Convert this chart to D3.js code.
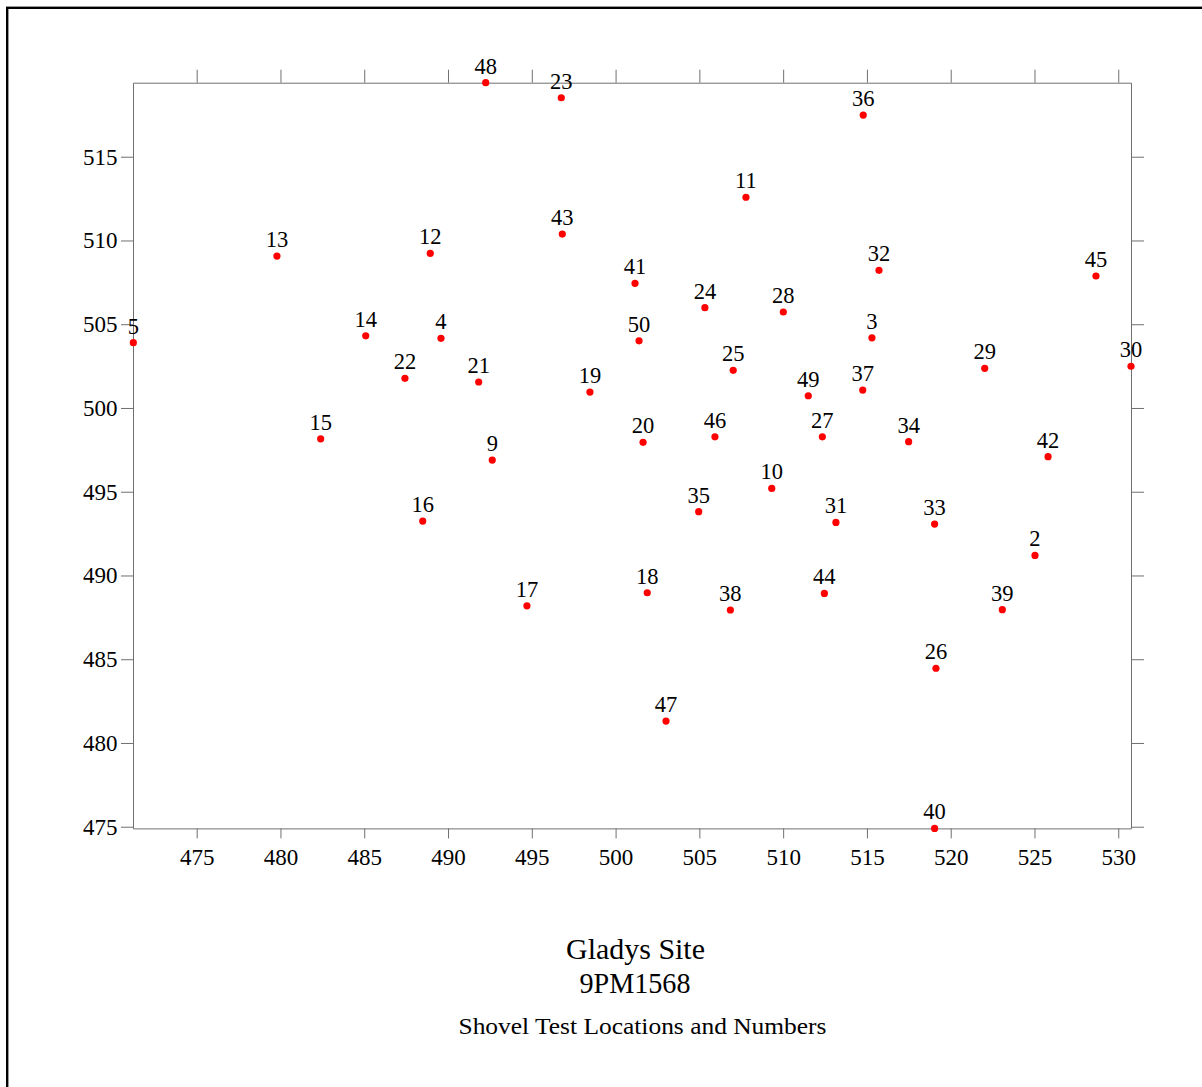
<!DOCTYPE html>
<html>
<head>
<meta charset="utf-8">
<script src="https://cdn.jsdelivr.net/npm/d3@7"></script>
<style>
    body { margin: 0; background: #fff; }
    svg { display: block; }
    .axis path, .axis line { stroke: #707070; stroke-width: 1; }
    .axis text { font-family: "Liberation Serif", "DejaVu Serif", serif; font-size: 23px; fill: #000; }
    .pt-label { font-family: "Liberation Serif", "DejaVu Serif", serif; font-size: 22.5px; fill: #000; text-anchor: middle; }
    .title { font-family: "Liberation Serif", "DejaVu Serif", serif; fill: #000; text-anchor: middle; }
</style>
</head>
<body>
<svg id="chart"></svg>
<script>
// shovel test numbers and their grid coordinates (easting / northing, metres)
const testIds = [48, 23, 11, 43, 12, 41, 13, 36, 32, 45,
                 5, 14, 4, 22, 15, 16, 21, 19, 9, 50,
                 24, 28, 25, 49, 20, 46, 27, 10, 35, 31,
                 3, 29, 30, 37, 34, 42, 33, 2, 44, 39,
                 17, 18, 38, 47, 26, 40];
const easting = [492.25, 496.76, 507.78, 496.82, 488.94, 501.16, 479.79, 514.78, 515.72, 528.67,
                 471.22, 485.09, 489.58, 487.43, 482.40, 488.49, 491.83, 498.47, 492.64, 501.40,
                 505.33, 510.01, 507.02, 511.50, 501.64, 505.93, 512.34, 509.32, 504.96, 513.15,
                 515.30, 522.03, 530.76, 514.75, 517.49, 525.81, 519.04, 525.03, 512.46, 523.08,
                 494.71, 501.89, 506.85, 503.01, 519.12, 519.04];
const northing = [519.42, 518.52, 512.58, 510.38, 509.23, 507.44, 509.07, 517.49, 508.22, 507.88,
                  503.90, 504.31, 504.16, 501.77, 498.16, 493.25, 501.55, 500.95, 496.89, 504.01,
                  505.99, 505.73, 502.25, 500.73, 497.95, 498.28, 498.28, 495.20, 493.81, 493.17,
                  504.19, 502.37, 502.49, 501.07, 497.99, 497.09, 493.07, 491.20, 488.93, 487.96,
                  488.19, 488.97, 487.94, 481.31, 484.46, 474.90];

const xTicks = [475, 480, 485, 490, 495, 500, 505, 510, 515, 520, 525, 530];
const yTicks = [475, 480, 485, 490, 495, 500, 505, 510, 515];
const titleLines = ['Gladys Site', '9PM1568'];
const subtitle = 'Shovel Test Locations and Numbers';

const W = 1202, H = 1087;

const svg = d3.select('#chart')
    .attr('width', W)
    .attr('height', H);

// page frame (runs off the right/bottom edge like the scan)
svg.append('rect')
    .attr('x', 7.2)
    .attr('y', 7.8)
    .attr('width', 1400)
    .attr('height', 1300)
    .attr('fill', 'none')
    .attr('stroke', '#000')
    .attr('stroke-width', 2.4);

const xScale = d3.scaleLinear()
    .domain([471.2, 530.76])
    .range([133, 1131]);

const yScale = d3.scaleLinear()
    .domain([474.9, 519.42])
    .range([828.4, 82.7]);

const [x0, x1] = xScale.range();
const [y0, y1] = yScale.range();

svg.append('g')
    .attr('class', 'axis')
    .attr('transform', `translate(${x0},0)`)
    .call(d3.axisLeft(yScale).tickValues(yTicks).tickSize(12).tickSizeOuter(0).tickPadding(3.5));

svg.append('g')
    .attr('class', 'axis')
    .attr('transform', `translate(0,${y0})`)
    .call(d3.axisBottom(xScale).tickValues(xTicks).tickSize(10).tickSizeOuter(0).tickPadding(10.3));

svg.append('g')
    .attr('class', 'axis')
    .attr('transform', `translate(0,${y1})`)
    .call(d3.axisTop(xScale).tickValues(xTicks).tickSize(13).tickSizeOuter(0).tickFormat(''));

svg.append('g')
    .attr('class', 'axis')
    .attr('transform', `translate(${x1},0)`)
    .call(d3.axisRight(yScale).tickValues(yTicks).tickSize(13).tickSizeOuter(0).tickFormat(''));

const points = testIds.map((id, i) => ({id: id, x: easting[i], y: northing[i]}));

svg.append('g')
    .selectAll('text')
    .data(points)
    .join('text')
    .attr('class', 'pt-label')
    .attr('x', d => xScale(d.x))
    .attr('y', d => yScale(d.y) - 9)
    .text(d => d.id);

svg.append('g')
    .selectAll('circle')
    .data(points)
    .join('circle')
    .attr('cx', d => xScale(d.x))
    .attr('cy', d => yScale(d.y))
    .attr('r', 3.6)
    .attr('fill', '#f00');

// titles
svg.append('text')
    .attr('class', 'title')
    .attr('x', 635.5)
    .attr('y', 959)
    .style('font-size', '29px')
    .attr('textLength', 139)
    .attr('lengthAdjust', 'spacingAndGlyphs')
    .text(titleLines[0]);

svg.append('text')
    .attr('class', 'title')
    .attr('x', 635)
    .attr('y', 993)
    .style('font-size', '29px')
    .attr('textLength', 111)
    .attr('lengthAdjust', 'spacingAndGlyphs')
    .text(titleLines[1]);

svg.append('text')
    .attr('class', 'title')
    .attr('x', 642.5)
    .attr('y', 1034)
    .style('font-size', '23px')
    .attr('textLength', 368)
    .attr('lengthAdjust', 'spacingAndGlyphs')
    .text(subtitle);
</script>
</body>
</html>
